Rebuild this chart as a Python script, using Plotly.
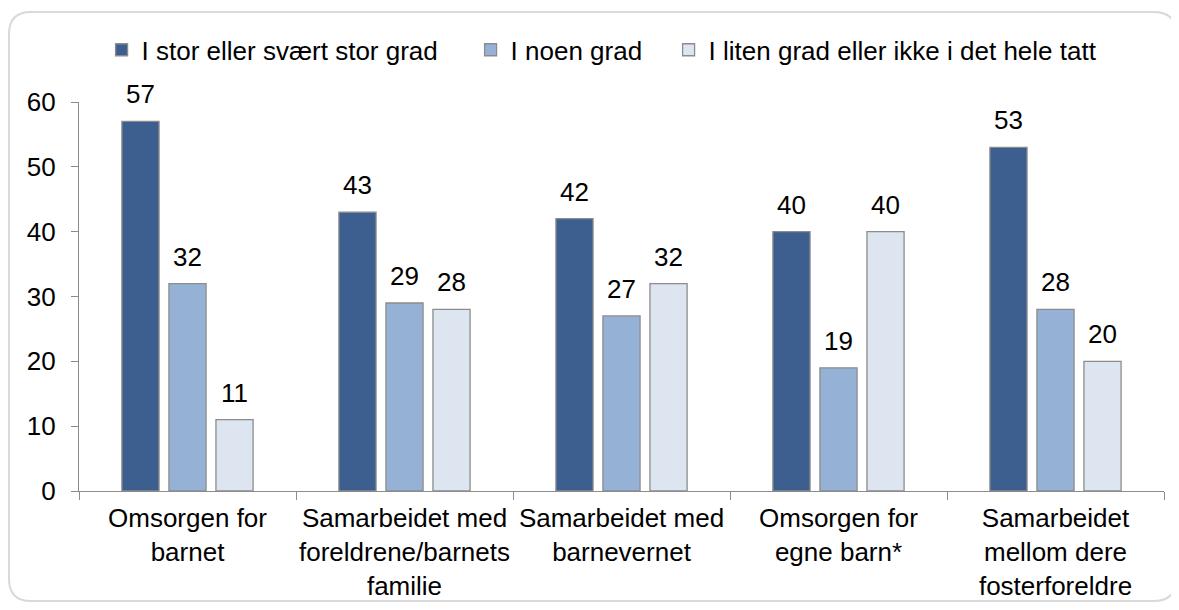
import plotly.graph_objects as go

categories = ["Omsorgen for<br>barnet",
              "Samarbeidet med<br>foreldrene/barnets<br>familie",
              "Samarbeidet med<br>barnevernet",
              "Omsorgen for<br>egne barn*",
              "Samarbeidet<br>mellom dere<br>fosterforeldre"]
series_names = ["I stor eller svært stor grad", "I noen grad", "I liten grad eller ikke i det hele tatt"]
stor = [57, 43, 42, 40, 53]
noen = [32, 29, 27, 19, 28]
liten = [11, 28, 32, 40, 20]
colors = ["#3D5F8F", "#95B2D6", "#DCE5F0"]
y_ticks = [0, 10, 20, 30, 40, 50, 60]

FONT = "Liberation Sans, Arial, sans-serif"
FS = 26
BARGAP, GROUPGAP = 0.35, 0.21

# page body has an 8px margin, so figure coordinates = reference pixels - 8
W, H = 1171, 602
L, R, T, B = 71, 15, 94, 119
pw = W - L - R
ph = H - T - B

legend_ids = ["legend", "legend2", "legend3"]
legend_x = [0.0208, 0.3609, 0.5434]

fig = go.Figure()
all_series = [stor, noen, liten]
for name, vals, col, lid in zip(series_names, all_series, colors, legend_ids):
    fig.add_trace(go.Bar(
        x=categories, y=vals, name=name, legend=lid,
        marker=dict(color=col, line=dict(color="#8C8C8C", width=1.3)),
        cliponaxis=False,
    ))

# value labels above bars (offset within the group from the bar layout)
cat_w = pw / len(categories)
slot = cat_w * (1 - BARGAP) / len(all_series)
for i, vals in enumerate(all_series):
    shift = (i - (len(all_series) - 1) / 2) * slot
    for c, v in zip(categories, vals):
        fig.add_annotation(x=c, y=v, text=str(v), showarrow=False, xref="x", yref="y",
                           xshift=shift, yshift=10, yanchor="bottom",
                           font=dict(size=FS, color="#000000", family=FONT))

legend_style = dict(orientation="h", xanchor="left", y=1.134, yanchor="middle",
                    font=dict(size=FS, family=FONT), itemwidth=30,
                    bgcolor="rgba(0,0,0,0)")
legends = {lid: dict(x=lx, **legend_style) for lid, lx in zip(legend_ids, legend_x)}

fig.update_layout(
    width=W, height=H,
    margin=dict(l=L, r=R, t=T, b=B, autoexpand=False),
    paper_bgcolor="white", plot_bgcolor="white",
    barmode="group", bargap=BARGAP, bargroupgap=GROUPGAP,
    font=dict(family=FONT, size=FS, color="#000000"),
    showlegend=True,
    **legends,
    xaxis=dict(showline=True, linecolor="#8C8C8C", linewidth=1.3, ticks="outside",
               tickson="boundaries", ticklen=8, tickcolor="#8C8C8C", tickwidth=1.3,
               ticklabelstandoff=4, tickangle=0, automargin=False,
               tickfont=dict(size=FS, family=FONT), showgrid=False),
    yaxis=dict(range=[0, 60], tickvals=y_ticks, showline=True, linecolor="#8C8C8C",
               linewidth=1.3, ticks="outside", ticklen=7, tickcolor="#8C8C8C", tickwidth=1.3,
               ticklabelstandoff=10, automargin=False,
               tickfont=dict(size=FS, family=FONT), showgrid=False, zeroline=False),
)

# rounded outer border (pixel -> paper conversion)
def px(x):
    return (x - L) / pw
def py(y):
    return (H - B - y) / ph
x0, x1, y0, y1, r = 1, 1168, 4, 593, 22
path = (f"M {px(x0 + r)},{py(y0)} L {px(x1 - r)},{py(y0)} "
        f"Q {px(x1)},{py(y0)} {px(x1)},{py(y0 + r)} "
        f"L {px(x1)},{py(y1 - r)} Q {px(x1)},{py(y1)} {px(x1 - r)},{py(y1)} "
        f"L {px(x0 + r)},{py(y1)} Q {px(x0)},{py(y1)} {px(x0)},{py(y1 - r)} "
        f"L {px(x0)},{py(y0 + r)} Q {px(x0)},{py(y0)} {px(x0 + r)},{py(y0)} Z")
fig.add_shape(type="path", path=path, xref="paper", yref="paper",
              line=dict(color="#D9D9D9", width=2), layer="below")

fig.write_html("out.html")
